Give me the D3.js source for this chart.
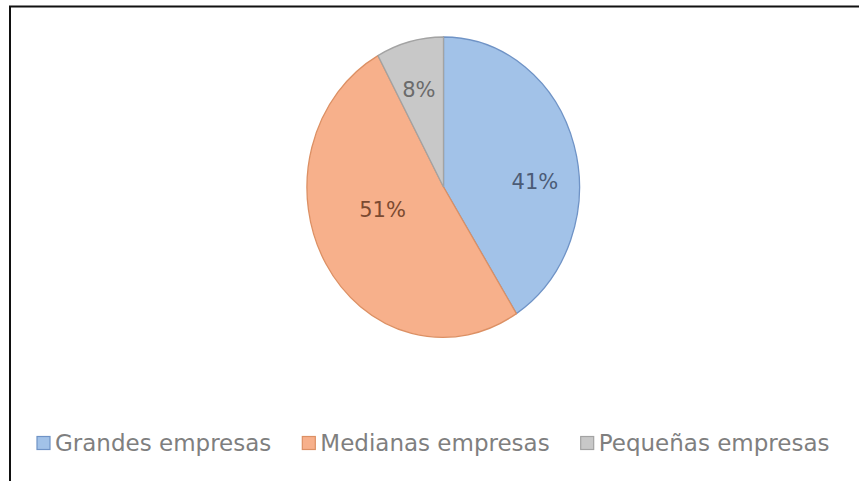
<!DOCTYPE html>
<html>
<head>
<meta charset="utf-8">
<script src="https://cdn.jsdelivr.net/npm/d3@7"></script>
<style>
  body { margin: 0; background: #fff; }
  svg { display: block; }
</style>
</head>
<body>
<script>
//chart data
var categories = ["Grandes empresas", "Medianas empresas", "Pequeñas empresas"];
var shares = [41, 51, 8];
var pctLabels = ["41%", "51%", "8%"];

window.onload = function(){

    //SVG dimensions
    var w = 859,
        h = 481;

    var svg = d3.select("body")
        .append("svg")
        .attr("width", w)
        .attr("height", h);

    //white background
    svg.append("rect")
        .attr("width", w)
        .attr("height", h)
        .style("fill", "#fff");

    //frame lines (top and left only are visible in the reference)
    svg.append("line")
        .attr("x1", 9).attr("y1", 6.5)
        .attr("x2", w).attr("y2", 6.5)
        .style("stroke", "#111").style("stroke-width", 2);
    svg.append("line")
        .attr("x1", 10).attr("y1", 6)
        .attr("x2", 10).attr("y2", h)
        .style("stroke", "#111").style("stroke-width", 2);

    //colors
    var fill = d3.scaleOrdinal()
        .domain(categories)
        .range(["#a2c2e8", "#f7b08b", "#c8c8c8"]);
    var edge = d3.scaleOrdinal()
        .domain(categories)
        .range(["#6f93c6", "#dc9064", "#a3a3a3"]);
    var labelColor = d3.scaleOrdinal()
        .domain(categories)
        .range(["#4b5b76", "#7b4a31", "#6b6b6b"]);

    //pie is a slightly tall ellipse in the picture
    var cx = 443.5, cy = 187, rx = 136, ry = 150;

    var pie = d3.pie()
        .sort(null)
        .value(function(d){ return d.value; });

    var data = pie(categories.map(function(c, i){
        return {name: c, value: shares[i], label: pctLabels[i]};
    }));

    var arc = d3.arc()
        .innerRadius(0)
        .outerRadius(1);

    var pieG = svg.append("g")
        .attr("transform", "translate(" + cx + "," + cy + ") scale(" + rx + "," + ry + ")");

    pieG.selectAll(".slice")
        .data(data)
        .enter()
        .append("path")
        .attr("class", "slice")
        .attr("d", arc)
        .attr("vector-effect", "non-scaling-stroke")
        .style("fill", function(d){ return fill(d.data.name); })
        .style("stroke", function(d){ return edge(d.data.name); })
        .style("stroke-width", 1.3);

    //label placement: centroid on the ellipse plus a small nudge like Excel does
    var labelArc = d3.arc().innerRadius(0.7).outerRadius(0.7);
    var nudge = [[0, 24], [21, -30], [-1, 5]];

    svg.selectAll(".pct")
        .data(data)
        .enter()
        .append("text")
        .attr("class", "pct")
        .attr("x", function(d, i){
            return cx + labelArc.centroid(d)[0] * rx + nudge[i][0];
        })
        .attr("y", function(d, i){
            return cy + labelArc.centroid(d)[1] * ry + nudge[i][1];
        })
        .attr("text-anchor", "middle")
        .attr("dominant-baseline", "central")
        .style("font-family", "DejaVu Sans")
        .style("font-size", "21px")
        .style("fill", function(d){ return labelColor(d.data.name); })
        .text(function(d){ return d.data.label; });

    //legend
    var legend = svg.append("g").attr("class", "legend");
    var items = legend.selectAll(".item")
        .data(categories)
        .enter()
        .append("g")
        .attr("class", "item");

    items.append("rect")
        .attr("width", 13)
        .attr("height", 13)
        .attr("y", -6.5)
        .style("fill", function(d){ return fill(d); })
        .style("stroke", function(d){ return edge(d); })
        .style("stroke-width", 1.2);

    items.append("text")
        .attr("x", 18)
        .attr("dominant-baseline", "central")
        .style("font-family", "DejaVu Sans")
        .style("font-size", "23px")
        .style("fill", "#7f7f7f")
        .text(function(d){ return d; });

    //lay items out left to right, starting near the frame
    var gap = 31, xPos = 37;
    items.attr("transform", function(){
        var x = xPos;
        xPos += this.getBBox().width + gap;
        return "translate(" + x + ",443)";
    });
};
</script>
</body>
</html>
